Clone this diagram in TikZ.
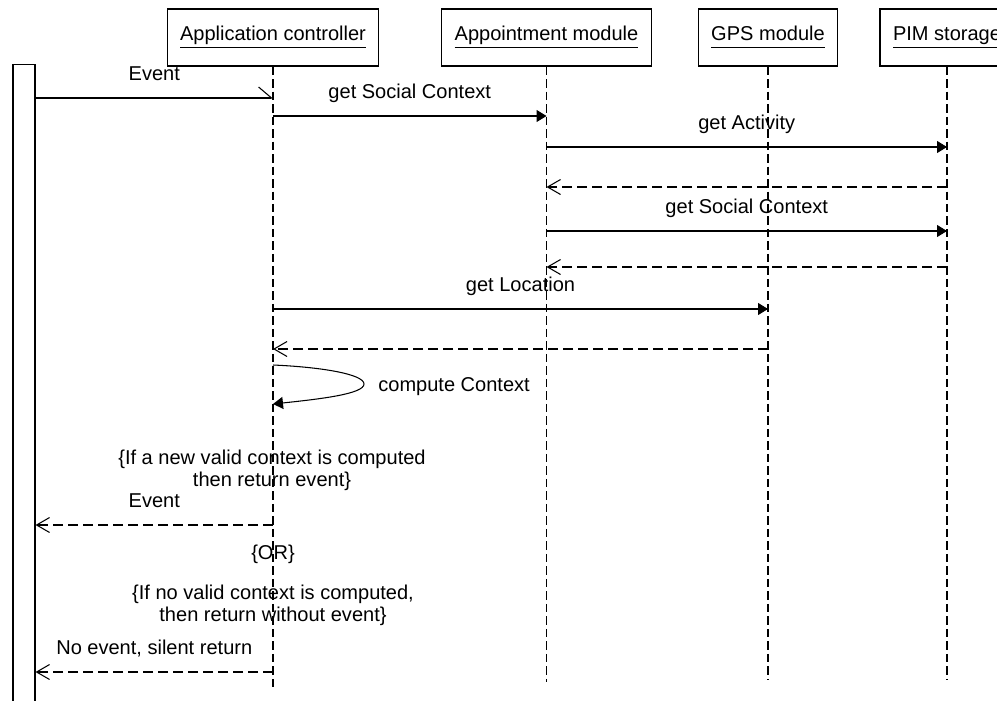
\documentclass[tikz,border=0pt]{standalone}
\usepackage{fontspec}
\setmainfont{Liberation Sans}
\usetikzlibrary{arrows.meta}

\begin{document}
\begin{tikzpicture}[x=0.02cm, y=-0.02cm, font=\fontsize{11.4}{12.5}\selectfont]

      \tikzset{object/.style={draw, rectangle, line width=0.6pt, minimum height=1.14cm, inner xsep=0.26cm, inner ysep=0pt},
               actor/.style={draw, rectangle, line width=0.6pt, minimum width=0.44cm, minimum height=13.12cm},
               lifeline/.style={line width=0.6pt, dash pattern=on 0.17cm off 0.08cm},
               call/.style={line width=0.6pt, -{Triangle[length=0.2cm, width=0.24cm]}},
               reply/.style={line width=0.6pt, dash pattern=on 0.2cm off 0.1cm, -{Straight Barb[length=0.26cm, width=0.3cm]}},
               signal/.style={line width=0.6pt, -{Straight Barb[harpoon, length=0.26cm, width=0.44cm]}},
               msg/.style={midway, anchor=base, yshift=0.36cm, inner sep=0pt},
               note/.style={align=center, inner sep=0pt}}
      \newcommand{\objname}[1]{\underline{\vphantom{Ap}#1}}

      \useasboundingbox (0,0) rectangle (997,700);

%% Objects
      	\node[actor] (src) at (24,392) {};
      	\node[object] (ac) at (273,37.5) {\objname{Application controller}};
      	\node[object] (am) at (546.5,37.5) {\objname{Appointment module}};
      	\node[object] (gps) at (768,37.5) {\objname{GPS module}};
      	\node[object] (pim) at (947,37.5) {\objname{PIM storage}};
%% Lifelines
      	\coordinate (ac-end) at (273,687);
      	\coordinate (am-end) at (546.5,682);
      	\coordinate (gps-end) at (768,680);
      	\coordinate (pim-end) at (947,680);
		\draw[lifeline] (ac) -- (ac-end);
		\draw[lifeline] (am) -- (am-end);
		\draw[lifeline] (gps) -- (gps-end);
		\draw[lifeline] (pim) -- (pim-end);
%% Rows
      	\coordinate (r1) at (0,98);
      	\coordinate (r2) at (0,116);
      	\coordinate (r3) at (0,147);
      	\coordinate (r4) at (0,187);
      	\coordinate (r5) at (0,231);
      	\coordinate (r6) at (0,267);
      	\coordinate (r7) at (0,309);
      	\coordinate (r8) at (0,349);
      	\coordinate (r9) at (0,365);
      	\coordinate (r10) at (0,404);
      	\coordinate (r11) at (0,525);
      	\coordinate (r12) at (0,672);
      	\coordinate (turn) at (364,384);
%Messages
		\draw[signal] (src.east |- r1) -- node[msg] {Event} (ac |- r1);
		\draw[call] (ac |- r2) -- node[msg] {get Social Context} (am |- r2);
		\draw[call] (am |- r3) -- node[msg] {get Activity} (pim |- r3);
		\draw[reply] (pim |- r4) -- (am |- r4);
		\draw[call] (am |- r5) -- node[msg] {get Social Context} (pim |- r5);
		\draw[reply] (pim |- r6) -- (am |- r6);
		\draw[call] (ac |- r7) -- node[msg] {get Location} (gps |- r7);
		\draw[reply] (gps |- r8) -- (ac |- r8);
		\draw[call] (ac |- r9) .. controls (320,367) and (364,374) .. (turn) .. controls (364,394) and (320,399) .. (ac |- r10);
		\draw[reply] (ac |- r11) -- node[msg] {Event} (src.east |- r11);
		\draw[reply] (ac |- r12) -- node[msg] {No event, silent return} (src.east |- r12);
%Notes
      	\node[anchor=base west, inner sep=0pt] (compute) at (378,391) {compute Context};
      	\node[note] (if-new) at (272,470) {\{If a new valid context is computed\\then return event\}};
      	\node[anchor=base, inner sep=0pt] (or) at (273,559) {\{OR\}};
      	\node[note] (if-none) at (273,605) {\{If no valid context is computed,\\then return without event\}};

	\end{tikzpicture}
\end{document}
